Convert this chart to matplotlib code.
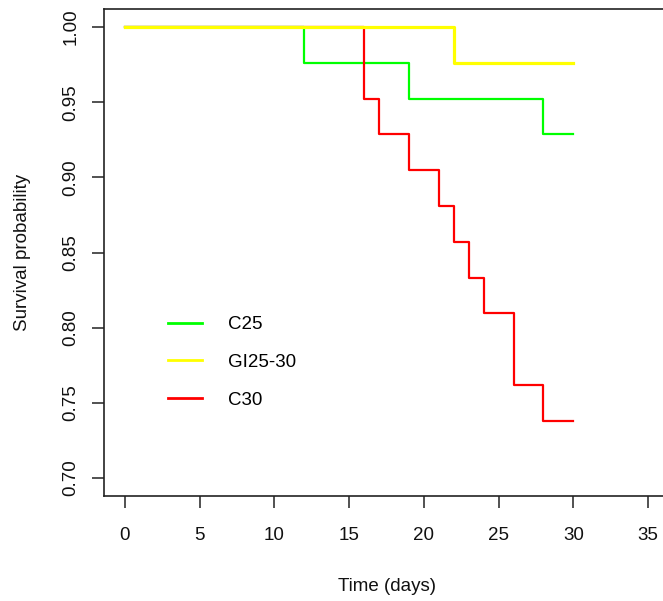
import matplotlib.pyplot as plt

plt.rcParams['font.family'] = ['Liberation Sans', 'DejaVu Sans']

# Kaplan-Meier step data (time in days, survival probability)
c25_time = [0, 12, 19, 28, 30]
c25_surv = [1.0, 0.976, 0.952, 0.929, 0.929]

gi_time = [0, 22, 30]
gi_surv = [1.0, 0.976, 0.976]

c30_time = [0, 16, 17, 19, 21, 22, 23, 24, 26, 28, 30]
c30_surv = [1.0, 0.952, 0.929, 0.905, 0.881, 0.857, 0.833, 0.810, 0.762, 0.738, 0.738]

labels = ['C25', 'GI25-30', 'C30']
colors = ['#00ff00', '#ffff00', '#ff0000']

xticks = [0, 5, 10, 15, 20, 25, 30, 35]
yticks = [0.70, 0.75, 0.80, 0.85, 0.90, 0.95, 1.00]

fig = plt.figure(figsize=(6.63, 6.01), dpi=100)
ax = fig.add_axes([104 / 663, 105 / 601, 565 / 663, 487 / 601])

axis_col = '#222222'
fs = 13.5

ax.step(c25_time, c25_surv, where='post', color=colors[0], lw=1.6, label=labels[0], zorder=2)
ax.step(c30_time, c30_surv, where='post', color=colors[2], lw=1.6, label=labels[2], zorder=3)
# yellow drawn last and a touch wider so it hides the others at 1.0
ax.step(gi_time, gi_surv, where='post', color=colors[1], lw=2.3, label=labels[1], zorder=4)

ax.set_xlim(-1.4, 36.4)
ax.set_ylim(0.688, 1.012)
ax.set_xticks(xticks)
ax.set_xticklabels([str(t) for t in xticks])
ax.set_yticks(yticks)
ax.set_yticklabels([f"{t:.2f}" for t in yticks], rotation=90, va='center')

for s in ax.spines.values():
    s.set_color(axis_col)
    s.set_linewidth(1.2)

ax.tick_params(direction='out', length=8.5, width=1.1, color=axis_col,
               labelsize=fs, labelcolor='#111111')
ax.tick_params(axis='x', pad=14)
ax.tick_params(axis='y', pad=9)

ax.set_xlabel('Time (days)', fontsize=fs, labelpad=24, color='#111111')
ax.set_ylabel('Survival probability', fontsize=fs, labelpad=23, color='#111111')

h, l = ax.get_legend_handles_labels()
order = [0, 2, 1]
h = [h[i] for i in order]
l = [l[i] for i in order]
leg = ax.legend(h, l, loc='upper left', bbox_to_anchor=(64 / 565, (496 - 316) / 487),
                frameon=False, fontsize=fs, handlelength=1.8, handletextpad=1.4,
                labelspacing=1.1, borderpad=0, borderaxespad=0)
for line in leg.get_lines():
    line.set_linewidth(2.0)

fig.savefig('out.png', dpi=100)
